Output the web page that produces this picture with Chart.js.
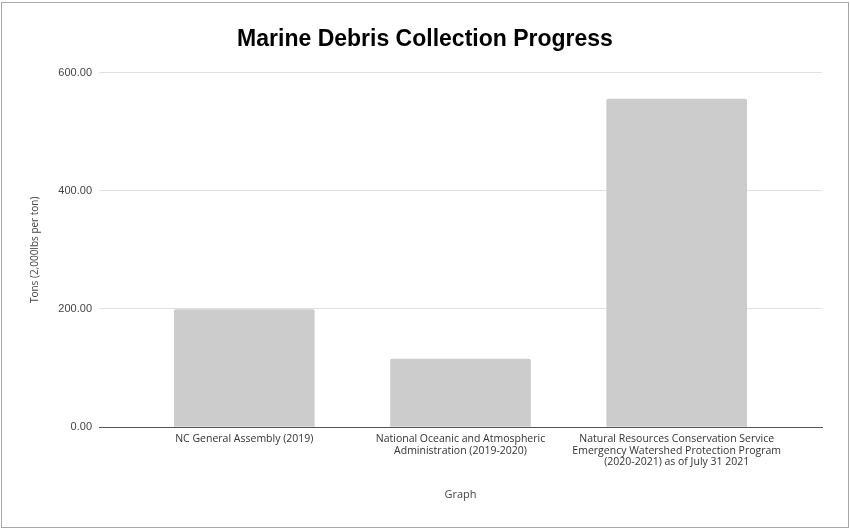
<!DOCTYPE html>
<html>
<head>
<meta charset="utf-8">
<script src="https://cdn.jsdelivr.net/npm/chart.js@4"></script>
<style>
  html, body { margin: 0; padding: 0; background: #fff; width: 850px; height: 531px; overflow: hidden; }
  #frame { position: absolute; left: 1px; top: 2px; width: 848px; height: 526px; box-sizing: border-box; border: 1px solid #a8a8a8; background: #fff; }
  #c { display: block; }
</style>
</head>
<body>
<div id="frame"><canvas id="c" width="846" height="524"></canvas></div>
<script>
const chartTitle = "Marine Debris Collection Progress";
const categories = [
  ["NC General Assembly (2019)"],
  ["National Oceanic and Atmospheric", "Administration (2019-2020)"],
  ["Natural Resources Conservation Service", "Emergency Watershed Protection Program", "(2020-2021) as of July 31 2021"]
];
const tons = [199, 115, 555];
const yTicks = [0, 200, 400, 600];
const xAxisTitle = "Graph";
const yAxisTitle = "Tons (2,000lbs per ton)";

const points = tons.map((v, i) => ({ x: i, y: v }));

new Chart(document.getElementById('c'), {
  type: 'bar',
  data: {
    datasets: [{
      label: 'Tons',
      data: points,
      backgroundColor: '#cccccc',
      borderWidth: 0,
      borderRadius: 2,
      borderSkipped: 'bottom',
      barThickness: 140
    }]
  },
  options: {
    responsive: false,
    animation: false,
    layout: { padding: { left: 0, right: 0, top: 0, bottom: 0 } },
    plugins: {
      legend: { display: false },
      tooltip: { enabled: false },
      title: {
        display: true,
        text: chartTitle,
        color: '#000',
        font: { family: 'Liberation Sans, Arial, sans-serif', size: 23, weight: 'bold' },
        padding: { top: 23, bottom: 19 }
      }
    },
    scales: {
      x: {
        type: 'linear',
        bounds: 'data',
        offset: false,
        min: -0.672,
        max: 2.672,
        afterBuildTicks: s => { s.ticks = categories.map((_, i) => ({ value: i })); },
        afterFit: s => { s.height = 100; },
        grid: { display: false, drawTicks: false, offset: false },
        border: { display: true, color: '#555', width: 1 },
        ticks: {
          autoSkip: false,
          maxRotation: 0,
          padding: 6,
          color: '#333',
          font: { family: 'Open Sans, sans-serif', size: 10.5, lineHeight: 1.12 },
          callback: v => categories[v] || ''
        },
        title: {
          display: true,
          text: xAxisTitle,
          color: '#444',
          font: { family: 'Open Sans, sans-serif', size: 11 },
          padding: { top: 0, bottom: 26 }
        }
      },
      y: {
        min: 0,
        max: 600,
        afterBuildTicks: s => { s.ticks = yTicks.map(v => ({ value: v })); },
        afterFit: s => { s.width = 97; },
        grid: { color: '#e0e0e0', lineWidth: 1, drawTicks: false },
        border: { display: false },
        ticks: {
          padding: 7,
          color: '#444',
          font: { family: 'Liberation Sans, Arial, sans-serif', size: 11 },
          callback: v => Number(v).toFixed(2)
        },
        title: {
          display: true,
          text: yAxisTitle,
          color: '#444',
          font: { family: 'Open Sans, sans-serif', size: 10 },
          padding: { top: 27, bottom: 0 }
        }
      },
      yRight: {
        position: 'right',
        display: true,
        min: 0,
        max: 600,
        afterFit: s => { s.width = 26; },
        grid: { display: false, drawTicks: false },
        border: { display: false },
        ticks: { display: false }
      }
    }
  }
});
</script>
</body>
</html>
